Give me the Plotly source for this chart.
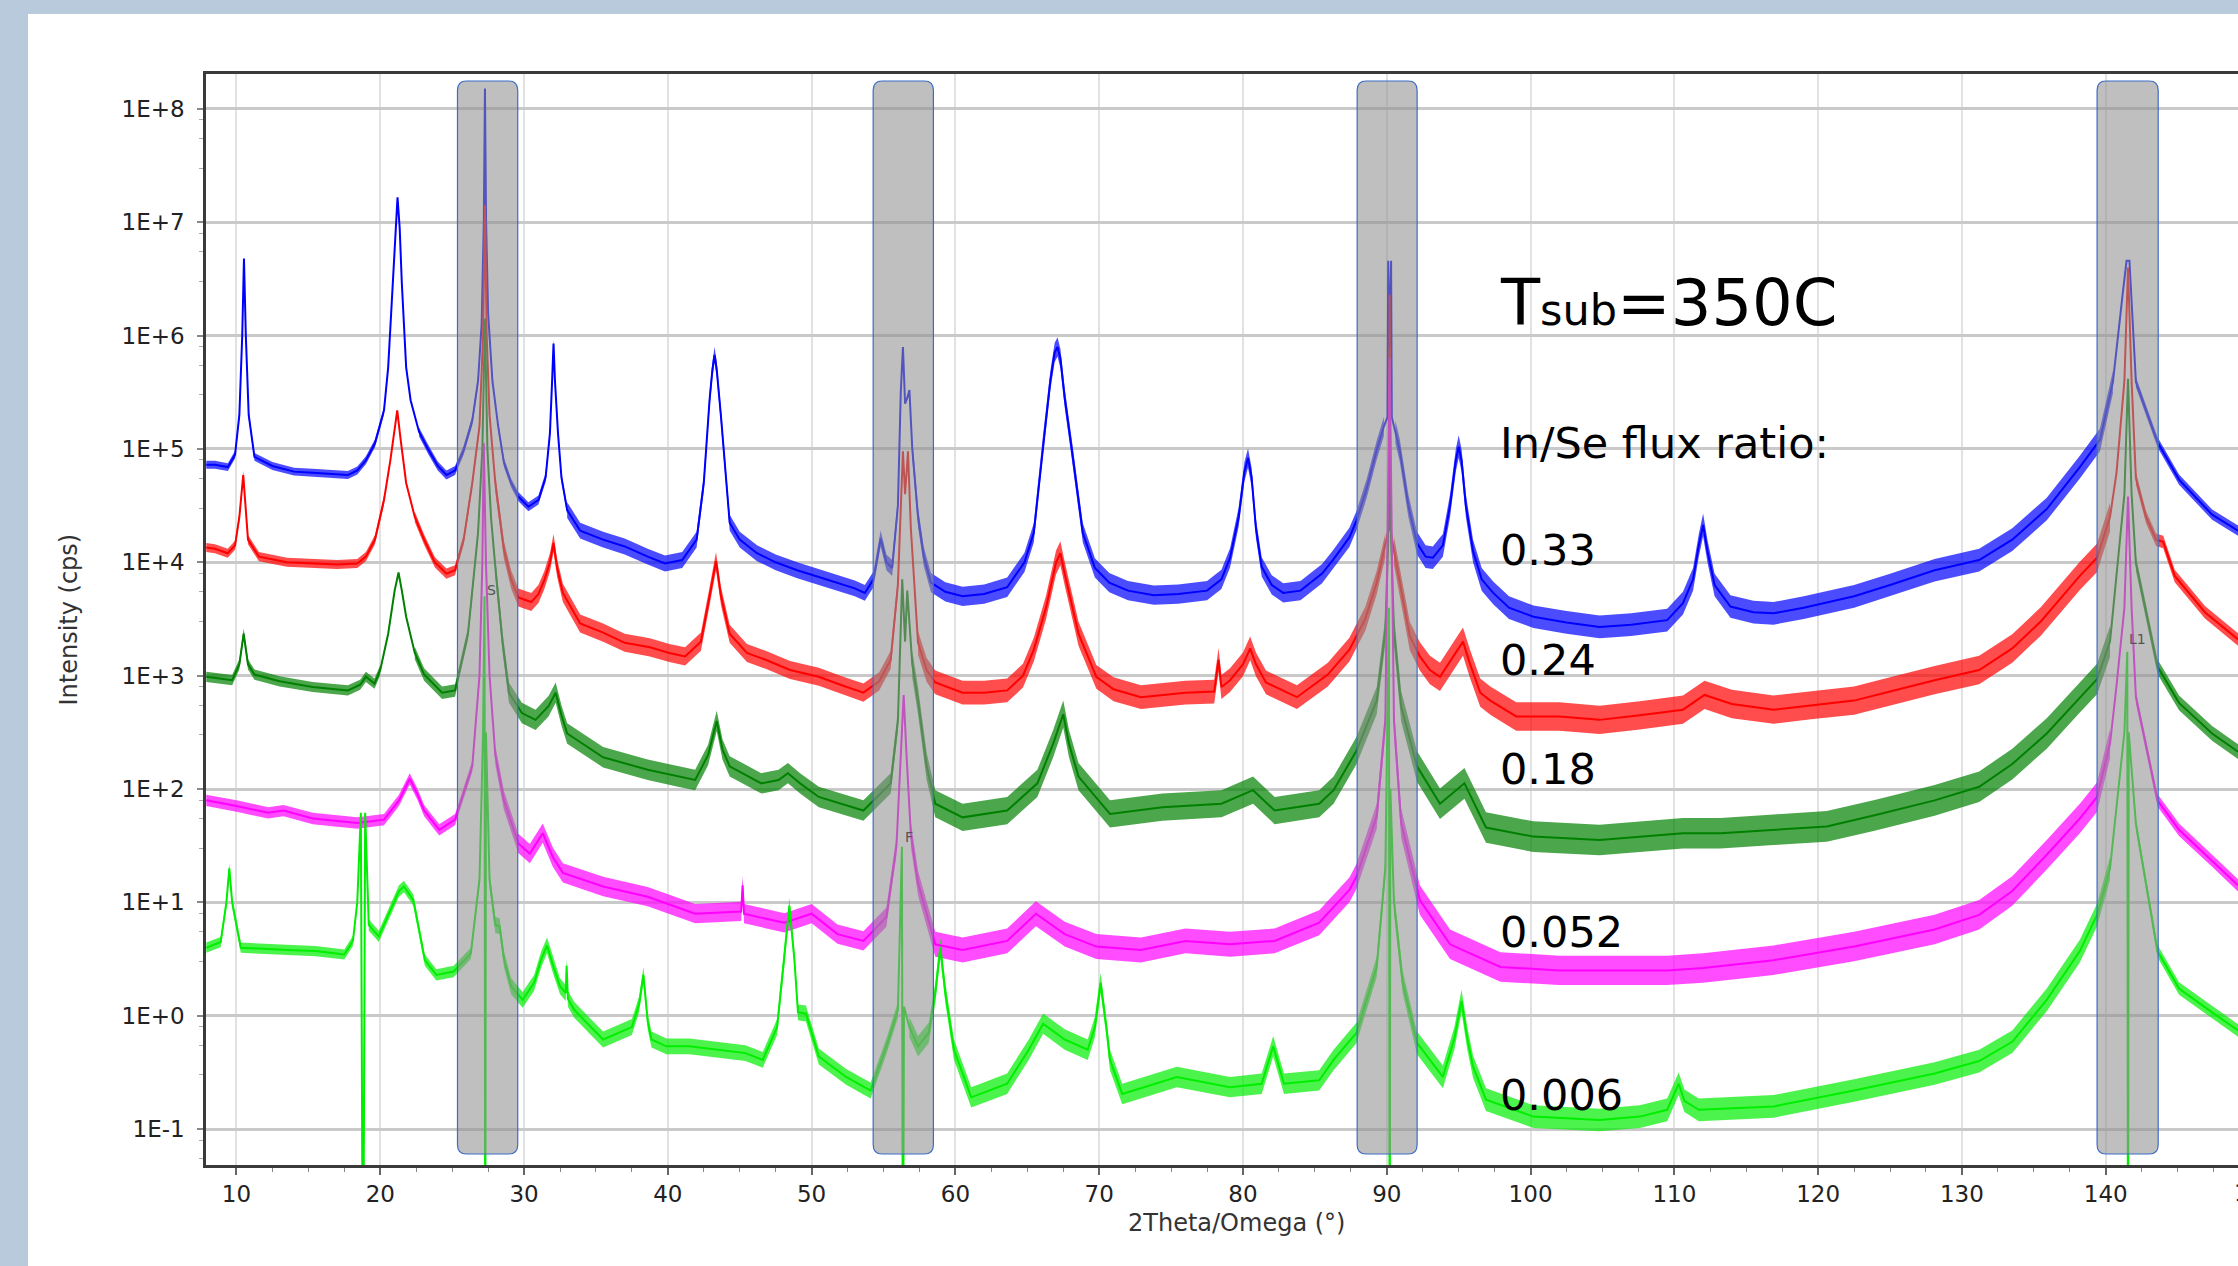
import plotly.graph_objects as go

# ---------------- data: 2Theta (deg) and log10(intensity / cps) ----------------
x_033 = [7.9,8.5,9.4,9.9,10.2,10.4,10.52,10.65,10.85,11.25,12.5,14.0,15.3,16.5,17.75,18.4,19.0,19.63,20.26,20.55,20.86,21.05,21.2,21.35,21.5,21.8,22.11,22.7,23.36,24.0,24.6,25.2,25.8,26.4,26.8,27.05,27.2,27.28,27.36,27.5,27.8,28.2,28.6,29.1,29.6,30.3,31.0,31.5,31.8,31.95,32.05,32.15,32.36,32.6,33.0,33.9,35.5,37.0,38.6,39.8,41.0,42.0,42.5,42.9,43.1,43.25,43.4,43.7,44.3,45.0,46.2,47.5,49.0,50.5,51.8,53.0,53.7,54.3,54.8,55.2,55.6,56.0,56.2,56.35,56.5,56.65,56.8,57.0,57.4,57.8,58.3,59.3,60.5,62.0,63.6,64.8,65.45,66.1,66.6,66.9,67.1,67.3,67.6,68.1,68.86,69.7,70.7,72.0,73.8,75.5,77.5,78.5,79.1,79.7,80.1,80.35,80.6,80.9,81.3,82.0,82.8,84.0,85.5,86.25,87.4,87.9,88.6,89.3,89.8,90.05,90.1,90.2,90.3,90.35,90.6,90.9,91.5,92.1,92.7,93.2,93.9,94.4,94.8,95.0,95.2,95.5,96.0,96.6,97.4,98.5,100.2,102.5,104.8,107.0,109.5,110.6,111.3,111.7,112.0,112.3,112.8,113.9,115.5,116.9,119.0,122.5,125.0,128.1,131.2,133.5,135.9,138.2,139.6,140.5,141.2,141.45,141.65,141.9,142.1,143.6,145.1,147.4,149.2]
lg_033 = [4.86,4.86,4.84,4.95,5.3,6.0,6.68,6.0,5.3,4.93,4.85,4.8,4.79,4.78,4.77,4.81,4.9,5.05,5.34,5.72,6.46,6.95,7.22,6.95,6.46,5.72,5.43,5.15,4.99,4.85,4.77,4.81,4.99,5.25,5.6,6.1,7.0,8.18,7.0,6.2,5.6,5.2,4.88,4.7,4.58,4.49,4.55,4.75,5.14,5.6,5.93,5.6,5.14,4.75,4.46,4.28,4.2,4.14,4.05,3.99,4.02,4.2,4.7,5.43,5.7,5.83,5.7,5.28,4.35,4.2,4.08,4.0,3.93,3.87,3.82,3.77,3.73,3.85,4.21,4.0,3.95,4.5,5.5,5.9,5.4,5.45,5.52,5.0,4.4,4.05,3.82,3.74,3.7,3.72,3.78,4.0,4.26,5.05,5.6,5.85,5.9,5.8,5.45,4.99,4.26,3.95,3.82,3.75,3.71,3.72,3.75,3.85,4.04,4.4,4.8,4.92,4.75,4.3,3.96,3.8,3.73,3.75,3.9,4.02,4.22,4.37,4.65,4.99,5.2,5.28,6.66,5.9,6.66,5.28,5.15,4.99,4.5,4.17,4.05,4.04,4.15,4.5,4.9,5.02,4.9,4.5,4.1,3.85,3.73,3.6,3.52,3.47,3.43,3.45,3.49,3.64,3.85,4.15,4.33,4.1,3.8,3.61,3.56,3.55,3.6,3.7,3.8,3.93,4.02,4.2,4.47,4.84,5.08,5.59,6.39,6.66,6.66,6.0,5.59,5.06,4.73,4.42,4.28]

x_024 = [7.9,8.5,9.39,9.9,10.2,10.47,10.8,11.56,13.5,15.3,17.0,18.4,19.0,19.63,20.26,20.7,21.0,21.18,21.4,21.8,22.4,23.05,23.8,24.6,25.2,25.8,26.4,26.9,27.15,27.28,27.4,27.6,28.0,28.6,29.1,29.6,30.5,31.0,31.4,31.8,32.05,32.3,32.7,33.9,35.5,37.0,38.75,40.1,41.2,42.3,42.9,43.35,43.7,44.3,45.5,46.8,48.5,50.5,52.0,53.6,54.7,55.5,56.0,56.35,56.5,56.7,56.9,57.4,58.0,58.6,60.5,62.0,63.6,64.7,65.45,66.3,67.0,67.3,67.6,68.56,69.8,71.0,72.9,76.0,78.0,78.3,78.5,79.1,80.0,80.5,80.9,81.6,83.75,85.9,87.4,88.5,89.3,89.9,90.15,90.2,90.25,90.5,91.0,91.6,92.3,93.0,93.7,94.5,95.3,95.8,96.5,97.2,99.0,102.0,104.8,107.6,110.6,112.1,114.0,116.9,119.5,122.5,125.0,128.1,131.2,133.5,135.5,138.2,139.4,140.3,140.75,141.3,141.55,141.8,142.1,142.8,143.5,144.0,144.8,146.9,149.2]
lg_024 = [4.13,4.12,4.08,4.15,4.4,4.77,4.2,4.05,4.0,3.99,3.98,3.99,4.05,4.2,4.55,4.9,5.2,5.34,5.1,4.7,4.4,4.2,4.0,3.9,3.93,4.2,4.7,5.2,6.0,7.15,6.0,5.3,4.7,4.11,3.85,3.69,3.65,3.72,3.84,4.0,4.17,3.95,3.73,3.46,3.38,3.29,3.25,3.2,3.17,3.3,3.7,4.01,3.7,3.37,3.2,3.14,3.05,2.99,2.92,2.85,2.95,3.14,3.8,4.98,4.6,4.98,4.3,3.29,3.05,2.94,2.85,2.85,2.87,3.0,3.23,3.6,4.0,4.08,3.9,3.37,2.99,2.88,2.81,2.85,2.86,3.14,2.9,2.96,3.1,3.24,3.1,2.94,2.81,3.01,3.23,3.5,3.82,4.15,4.3,6.36,4.3,4.1,3.75,3.35,3.17,3.05,2.99,3.15,3.3,3.1,2.85,2.78,2.64,2.64,2.61,2.65,2.7,2.83,2.75,2.7,2.74,2.78,2.86,2.96,3.05,3.24,3.48,3.88,4.04,4.4,4.79,5.6,6.6,5.6,4.74,4.4,4.2,4.18,3.88,3.56,3.32]

x_018 = [7.9,9.7,10.2,10.5,10.8,11.25,13.0,15.3,17.75,18.6,19.0,19.6,20.0,20.55,21.0,21.27,21.5,21.8,22.4,23.05,24.3,25.2,26.1,26.8,27.1,27.28,27.45,27.7,28.0,28.5,28.95,29.85,30.8,31.7,32.2,32.6,33.0,35.5,38.6,40.7,41.9,42.8,43.4,43.8,44.3,46.5,47.7,48.35,49.2,50.5,53.6,55.5,56.0,56.3,56.5,56.65,57.0,57.4,58.0,58.6,60.5,63.6,65.7,66.8,67.5,67.9,68.56,70.75,74.4,78.5,80.7,82.2,85.3,86.3,87.9,89.3,89.9,90.1,90.2,90.3,90.5,91.0,92.1,93.7,95.4,96.9,100.2,104.8,110.6,113.2,116.9,120.6,124.0,128.1,131.2,133.5,135.9,138.2,139.4,140.3,140.75,141.3,141.55,141.8,142.1,143.6,145.1,147.4,149.2]
lg_018 = [2.99,2.96,3.1,3.37,3.1,3.01,2.95,2.9,2.87,2.92,2.99,2.93,3.05,3.37,3.75,3.91,3.75,3.52,3.2,3.01,2.85,2.87,3.37,4.26,5.0,6.15,5.0,4.4,3.96,3.3,2.85,2.67,2.61,2.73,2.85,2.65,2.49,2.28,2.17,2.11,2.08,2.3,2.6,2.35,2.2,2.05,2.08,2.14,2.05,1.93,1.81,2.05,2.6,3.85,3.3,3.75,3.1,2.78,2.2,1.87,1.75,1.81,2.05,2.4,2.66,2.4,2.11,1.78,1.84,1.87,1.99,1.81,1.87,1.99,2.34,2.78,3.4,4.2,5.31,4.2,3.4,2.73,2.2,1.87,2.05,1.66,1.58,1.55,1.61,1.61,1.64,1.67,1.77,1.9,2.02,2.22,2.49,2.81,2.97,3.3,3.88,4.6,5.62,4.6,3.99,3.08,2.76,2.49,2.33]

x_0052 = [7.9,10.0,12.2,13.27,15.3,18.4,20.26,21.3,22.05,22.6,23.05,24.1,25.2,26.4,26.9,27.1,27.2,27.35,27.6,28.0,28.6,29.6,30.4,31.3,32.0,32.7,35.5,38.6,41.9,45.1,45.2,45.3,46.3,48.1,50.0,51.8,53.6,55.2,55.9,56.2,56.4,56.6,56.9,57.4,58.6,60.5,63.6,65.6,67.6,69.8,72.9,76.0,79.1,82.2,85.3,87.4,87.9,89.3,89.9,90.2,90.5,91.0,92.3,94.4,97.9,102.0,104.8,109.5,112.0,116.9,122.5,128.1,131.2,133.5,135.9,138.2,139.4,140.3,140.75,141.3,141.55,141.8,142.1,143.6,145.1,147.4,149.2]
lg_0052 = [1.9,1.85,1.79,1.81,1.74,1.7,1.73,1.9,2.09,1.95,1.81,1.64,1.73,2.2,3.0,4.0,5.05,4.0,3.0,2.3,1.9,1.52,1.43,1.61,1.4,1.26,1.14,1.05,0.9,0.92,1.15,0.9,0.87,0.82,0.9,0.72,0.66,0.87,1.5,2.3,2.83,2.3,1.6,1.17,0.63,0.58,0.66,0.9,0.72,0.61,0.58,0.66,0.63,0.66,0.82,1.11,1.23,1.76,2.6,5.8,2.6,1.7,1.02,0.63,0.43,0.4,0.4,0.4,0.42,0.49,0.61,0.76,0.89,1.1,1.42,1.74,1.93,2.4,2.91,3.6,4.58,3.6,2.81,1.9,1.64,1.37,1.15]

x_0006 = [7.9,8.9,9.3,9.5,9.7,10.3,13.5,15.5,17.5,18.1,18.4,18.65,18.8,18.95,19.2,19.9,20.6,21.3,21.65,22.3,23.1,23.9,25.1,26.3,26.9,27.15,27.25,27.3,27.35,27.6,28.0,28.3,28.6,29.1,29.9,30.7,31.2,31.6,32.0,32.5,32.9,32.96,33.05,33.5,35.5,37.5,38.0,38.3,38.6,38.86,39.9,41.5,45.4,46.6,47.6,48.1,48.45,48.8,49.05,49.6,50.5,52.4,54.1,55.2,56.0,56.28,56.35,56.42,56.8,57.4,58.15,58.6,58.95,59.3,59.9,61.1,63.6,65.1,66.1,67.6,69.2,69.7,70.1,70.5,70.75,71.6,75.4,79.1,81.3,82.1,82.85,85.3,86.3,87.9,89.3,89.9,90.15,90.2,90.25,90.5,91.1,92.1,93.9,94.7,95.2,95.6,96.0,96.9,100.2,104.8,107.6,109.5,110.3,110.7,111.7,116.9,122.5,128.1,131.2,133.5,135.9,138.2,139.4,140.3,140.75,141.3,141.5,141.55,141.6,141.9,142.1,143.6,145.1,147.4,149.2]
lg_0006 = [0.6,0.65,1.0,1.3,1.0,0.6,0.58,0.57,0.54,0.66,1.0,1.79,-3.0,1.79,0.8,0.7,0.9,1.1,1.14,1.02,0.49,0.36,0.39,0.55,1.2,2.5,3.7,-3.0,2.5,1.2,0.8,0.79,0.5,0.26,0.14,0.29,0.5,0.62,0.45,0.26,0.2,0.44,0.15,0.05,-0.21,-0.1,0.1,0.36,-0.05,-0.21,-0.27,-0.27,-0.33,-0.39,-0.1,0.5,0.97,0.5,0.03,0.02,-0.36,-0.54,-0.66,-0.27,0.05,1.49,-3.0,0.08,-0.1,-0.27,-0.15,0.2,0.6,0.2,-0.3,-0.72,-0.6,-0.3,-0.07,-0.21,-0.3,-0.1,0.29,-0.1,-0.39,-0.69,-0.54,-0.63,-0.6,-0.27,-0.6,-0.57,-0.39,-0.15,0.43,1.3,3.6,-3.0,2.0,1.0,0.3,-0.24,-0.54,-0.2,0.13,-0.2,-0.45,-0.74,-0.89,-0.92,-0.89,-0.83,-0.6,-0.75,-0.83,-0.8,-0.66,-0.51,-0.4,-0.23,0.14,0.57,0.89,1.3,1.85,2.5,3.21,-3.0,2.5,2.0,1.69,0.57,0.24,0.03,-0.13]

# counting-noise spread: (from 2Theta, to 2Theta, half-width in decades)
noise_033 = [(7.9,10.2,0.035),(10.85,20.3,0.035),(22.2,26.8,0.04),(28.0,33.0,0.04),(33.0,56.0,0.07),(57.0,89.8,0.085),(90.6,140.5,0.1),(142.1,149.2,0.045)]
noise_024 = [(7.9,20.3,0.04),(22.0,26.9,0.045),(28.0,56.0,0.08),(57.0,89.9,0.105),(90.5,140.3,0.125),(142.1,149.2,0.055)]
noise_018 = [(7.9,20.5,0.045),(22.0,26.8,0.055),(28.0,56.0,0.09),(57.0,89.9,0.12),(90.5,140.3,0.135),(142.1,149.2,0.065)]
noise_0052 = [(7.9,26.4,0.05),(28.0,55.9,0.085),(56.9,89.9,0.11),(90.5,140.3,0.13),(142.1,149.2,0.055)]
noise_0006 = [(7.9,18.1,0.045),(19.2,26.9,0.05),(27.6,56.0,0.07),(56.8,89.9,0.09),(90.5,140.3,0.1),(142.1,149.2,0.055)]

series_names = ["0.33", "0.24", "0.18", "0.052", "0.006"]
series_x = [x_033, x_024, x_018, x_0052, x_0006]
series_lg = [lg_033, lg_024, lg_018, lg_0052, lg_0006]
series_noise = [noise_033, noise_024, noise_018, noise_0052, noise_0006]
series_rgb = [(0, 0, 255), (255, 0, 0), (0, 128, 0), (255, 0, 255), (0, 238, 0)]

# highlighted 2Theta windows (deg)
band_lo = [25.37, 54.28, 87.94, 139.40]
band_hi = [29.56, 58.47, 92.11, 143.65]

# labels
y_tickvals = [0.1, 1, 10, 100, 1e3, 1e4, 1e5, 1e6, 1e7, 1e8]
y_ticktext = ["1E-1", "1E+0", "1E+1", "1E+2", "1E+3", "1E+4", "1E+5", "1E+6", "1E+7", "1E+8"]
x_tickvals = list(range(10, 150, 10))
ratio_labels = ["0.33", "0.24", "0.18", "0.052", "0.006"]
ratio_label_lg = [4.11, 3.14, 2.18, 0.74, -0.70]
peak_marks = [("S", 27.75, 3.76), ("F", 56.8, 1.58), ("L1", 142.2, 3.32)]

FONT = "DejaVu Sans"

fig = go.Figure()
# noise spread bands (drawn underneath the lines)
for xs, lg, segs, rgb in zip(series_x, series_lg, series_noise, series_rgb):
    for a, b, hw in segs:
        px = [x for x in xs if a <= x <= b]
        pl = [v for x, v in zip(xs, lg) if a <= x <= b]
        if len(px) < 2:
            continue
        bx = px + px[::-1]
        by = [10 ** (v + hw) for v in pl] + [10 ** (v - hw) for v in pl[::-1]]
        fig.add_trace(go.Scatter(
            x=bx, y=by, mode="lines", fill="toself",
            fillcolor="rgba(%d,%d,%d,0.7)" % rgb, line=dict(width=0),
            hoverinfo="skip", showlegend=False))

for name, xs, lg, rgb in zip(series_names, series_x, series_lg, series_rgb):
    fig.add_trace(go.Scatter(
        x=xs, y=[10 ** v for v in lg], mode="lines", name=name,
        line=dict(color="rgb(%d,%d,%d)" % rgb, width=2), hoverinfo="skip", showlegend=False))

shapes = []
# white panel over the blue-grey frame
shapes.append(dict(type="rect", xref="paper", yref="paper", x0=-0.0876, x1=1.1,
                   y0=-0.2, y1=1.055, fillcolor="white", line=dict(width=0), layer="below"))

# rounded translucent rectangles
rx = 0.62
y0, y1 = 0.0101, 0.9936
ry = 0.0085
for a, b in zip(band_lo, band_hi):
    p = (f"M {a+rx},{y0} L {b-rx},{y0} Q {b},{y0} {b},{y0+ry} "
         f"L {b},{y1-ry} Q {b},{y1} {b-rx},{y1} L {a+rx},{y1} "
         f"Q {a},{y1} {a},{y1-ry} L {a},{y0+ry} Q {a},{y0} {a+rx},{y0} Z")
    shapes.append(dict(type="path", xref="x", yref="paper", path=p,
                       fillcolor="rgba(145,145,145,0.58)",
                       line=dict(color="#3c6cc8", width=1.2), layer="above"))

annotations = []
annotations.append(dict(x=97.75, y=6.285, xref="x", yref="y", xanchor="left", yanchor="middle",
                         text="T<span style='font-size:43px'>sub</span>=350C", showarrow=False,
                         font=dict(family=FONT, size=64, color="black")))
annotations.append(dict(x=97.75, y=5.057, xref="x", yref="y", xanchor="left", yanchor="middle",
                         text="In/Se flux ratio:", showarrow=False,
                         font=dict(family=FONT, size=43, color="black")))
for t, v in zip(ratio_labels, ratio_label_lg):
    annotations.append(dict(x=97.75, y=v, xref="x", yref="y", xanchor="left", yanchor="middle",
                             text=t, showarrow=False, font=dict(family=FONT, size=43, color="black")))
for t, xv, v in peak_marks:
    annotations.append(dict(x=xv, y=v, xref="x", yref="y", text=t, showarrow=False,
                             font=dict(family=FONT, size=14, color="#555")))
annotations.append(dict(x=-0.0679, y=0.5, xref="paper", yref="paper", text="Intensity (cps)",
                         textangle=-90, showarrow=False, xanchor="center", yanchor="middle",
                         font=dict(family=FONT, size=24, color="#333")))
annotations.append(dict(x=0.507, y=-0.0532, xref="paper", yref="paper", text="2Theta/Omega (°)",
                         showarrow=False, xanchor="center", yanchor="middle",
                         font=dict(family=FONT, size=24, color="#333")))
annotations.append(dict(x=1.0089, y=-0.0257, xref="paper", yref="paper", text="150",
                         showarrow=False, xanchor="center", yanchor="middle",
                         font=dict(family=FONT, size=23, color="#222")))

minor_y = [k * 10.0 ** d for d in range(-2, 9) for k in (3, 5.5, 8)]

fig.update_layout(
    width=2238, height=1266,
    margin=dict(l=206, r=0, t=74, b=101),
    paper_bgcolor="#b9cadc", plot_bgcolor="white",
    shapes=shapes, annotations=annotations,
    font=dict(family=FONT, size=23, color="#222"),
    xaxis=dict(range=[7.88, 149.2], tickmode="array", tickvals=x_tickvals,
               showgrid=True, gridcolor="#e2e2e2", gridwidth=1.6,
               showline=True, linecolor="#3a3a3a", linewidth=2.5, mirror=True,
               ticks="outside", ticklen=7, tickwidth=1.5, tickcolor="#666",
               minor=dict(dtick=2.5, ticks="outside", ticklen=4, tickwidth=1.2,
                          tickcolor="#888", showgrid=False),
               zeroline=False, tickfont=dict(family=FONT, size=23, color="#222")),
    yaxis=dict(type="log", range=[-1.317, 8.308], tickmode="array",
               tickvals=y_tickvals, ticktext=y_ticktext,
               showgrid=True, gridcolor="#c9c9c9", gridwidth=2.5,
               showline=True, linecolor="#3a3a3a", linewidth=2.5, mirror=False,
               ticks="outside", ticklen=6, tickwidth=1.5, tickcolor="#888",
               ticklabelstandoff=8,
               minor=dict(tickmode="array", tickvals=minor_y, ticks="outside", ticklen=4,
                          tickwidth=1.2, tickcolor="#aaa", showgrid=False),
               zeroline=False, tickfont=dict(family=FONT, size=23, color="#222")),
)

fig.write_html("out.html")
